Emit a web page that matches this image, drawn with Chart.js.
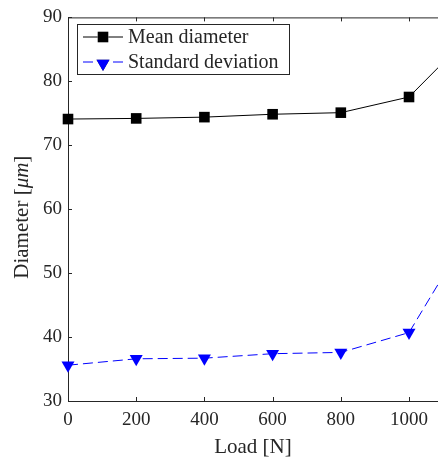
<!DOCTYPE html>
<html>
<head>
<meta charset="utf-8">
<script src="https://cdn.jsdelivr.net/npm/chart.js@4"></script>
<style>
  body { margin: 0; background: #fff; }
  #wrap { width: 438px; height: 464px; position: relative; }
</style>
</head>
<body>
<div id="wrap"><canvas id="myChart"></canvas></div>
<script>
// Datos
const loads = [0, 200, 400, 600, 800, 1000, 1200];
const meanDiameter = [74.1, 74.2, 74.4, 74.85, 75.1, 77.55, 88.3];
const stdDeviation = [35.6, 36.6, 36.7, 37.4, 37.6, 40.7, 58.4];
const xTicks = [0, 200, 400, 600, 800, 1000];
const yTicks = [30, 40, 50, 60, 70, 80, 90];

const axisColor = '#262626';
const serif = '"Liberation Serif", "Times New Roman", serif';

// Ejes con marcas hacia dentro, línea superior, títulos y leyenda
const decorPlugin = {
    id: 'decor',
    afterDraw(chart) {
        const ctx = chart.ctx;
        const area = chart.chartArea;
        const xs = chart.scales.x;
        const ys = chart.scales.y;
        ctx.save();
        ctx.strokeStyle = axisColor;
        ctx.lineWidth = 1;
        ctx.beginPath();
        // línea superior
        ctx.moveTo(area.left, area.top + 0.5);
        ctx.lineTo(area.right, area.top + 0.5);
        xTicks.forEach(v => {
            const px = Math.round(xs.getPixelForValue(v)) + 0.5;
            ctx.moveTo(px, area.bottom);
            ctx.lineTo(px, area.bottom - 4);
            ctx.moveTo(px, area.top);
            ctx.lineTo(px, area.top + 4);
        });
        yTicks.forEach(v => {
            const py = Math.round(ys.getPixelForValue(v)) + 0.5;
            ctx.moveTo(area.left, py);
            ctx.lineTo(area.left + 4, py);
        });
        ctx.stroke();

        // título eje X
        ctx.fillStyle = axisColor;
        ctx.font = '21px ' + serif;
        ctx.textAlign = 'center';
        ctx.textBaseline = 'middle';
        ctx.fillText('Load [N]', (area.left + area.right) / 2, 447);

        // título eje Y (con μm en cursiva)
        const parts = [
            ['Diameter [', '21px ' + serif],
            ['μm', 'italic 21px ' + serif],
            [']', '21px ' + serif]
        ];
        let total = 0;
        parts.forEach(p => { ctx.font = p[1]; total += ctx.measureText(p[0]).width; });
        ctx.translate(22, (area.top + area.bottom) / 2 + 8);
        ctx.rotate(-Math.PI / 2);
        ctx.textAlign = 'left';
        let x = -total / 2;
        parts.forEach(p => { ctx.font = p[1]; ctx.fillText(p[0], x, 0); x += ctx.measureText(p[0]).width; });
        ctx.restore();

        // leyenda
        ctx.save();
        const bx = 77.5, by = 24.5, bw = 212, bh = 50;
        ctx.fillStyle = '#fff';
        ctx.fillRect(bx, by, bw, bh);
        ctx.strokeStyle = axisColor;
        ctx.lineWidth = 1;
        ctx.strokeRect(bx, by, bw, bh);
        const rows = [37, 62];
        chart.data.datasets.forEach((ds, i) => {
            const y = rows[i];
            ctx.strokeStyle = ds.borderColor;
            ctx.lineWidth = ds.borderWidth;
            ctx.setLineDash(ds.borderDash || []);
            ctx.beginPath();
            ctx.moveTo(83, y);
            ctx.lineTo(123, y);
            ctx.stroke();
            ctx.setLineDash([]);
            Chart.helpers.drawPoint(ctx, {
                pointStyle: ds.pointStyle,
                rotation: ds.pointRotation || 0,
                radius: ds.pointRadius,
                borderWidth: 0
            }, 103, i === 1 ? y + 1.5 : y);
            ctx.fillStyle = ds.backgroundColor;
            ctx.fill();
            ctx.fillStyle = axisColor;
            ctx.font = '20px ' + serif;
            ctx.textAlign = 'left';
            ctx.textBaseline = 'middle';
            ctx.fillText(ds.label, 128, y + 1);
        });
        ctx.restore();
    }
};

const ctx = document.getElementById('myChart').getContext('2d');
const myChart = new Chart(ctx, {
    type: 'line',
    data: {
        labels: loads,
        datasets: [{
            label: 'Mean diameter',
            data: loads.map((l, i) => ({ x: l, y: meanDiameter[i] })),
            borderColor: '#000000',
            backgroundColor: '#000000',
            borderWidth: 1,
            pointStyle: 'rect',
            pointRadius: 7.5,
            pointBorderWidth: 0,
            clip: false
        }, {
            label: 'Standard deviation',
            data: loads.map((l, i) => ({ x: l, y: stdDeviation[i] })),
            borderColor: '#0000ff',
            backgroundColor: '#0000ff',
            borderWidth: 1,
            borderDash: [10, 5],
            pointStyle: 'triangle',
            pointRotation: 180,
            pointRadius: 7.5,
            pointBorderWidth: 0,
            clip: false
        }]
    },
    options: {
        responsive: true,
        maintainAspectRatio: false,
        animation: false,
        layout: { autoPadding: false, padding: { top: 14, right: 0, left: 0, bottom: 0 } },
        plugins: {
            legend: { display: false },
            tooltip: { enabled: false }
        },
        scales: {
            x: {
                type: 'linear',
                min: 0,
                max: 1085,
                grid: { display: false, drawTicks: false },
                border: { display: true, color: axisColor, width: 1 },
                ticks: {
                    stepSize: 200,
                    includeBounds: false,
                    padding: 8,
                    color: axisColor,
                    maxRotation: 0,
                    font: { family: serif, size: 19 },
                    callback: v => String(v)
                },
                afterFit: s => { s.height = 63; }
            },
            y: {
                min: 30,
                max: 90,
                grid: { display: false, drawTicks: false },
                border: { display: true, color: axisColor, width: 1 },
                ticks: {
                    stepSize: 10,
                    padding: 6,
                    color: axisColor,
                    font: { family: serif, size: 19 }
                },
                afterFit: s => { s.width = 68; }
            }
        }
    },
    plugins: [decorPlugin]
});
</script>
</body>
</html>
